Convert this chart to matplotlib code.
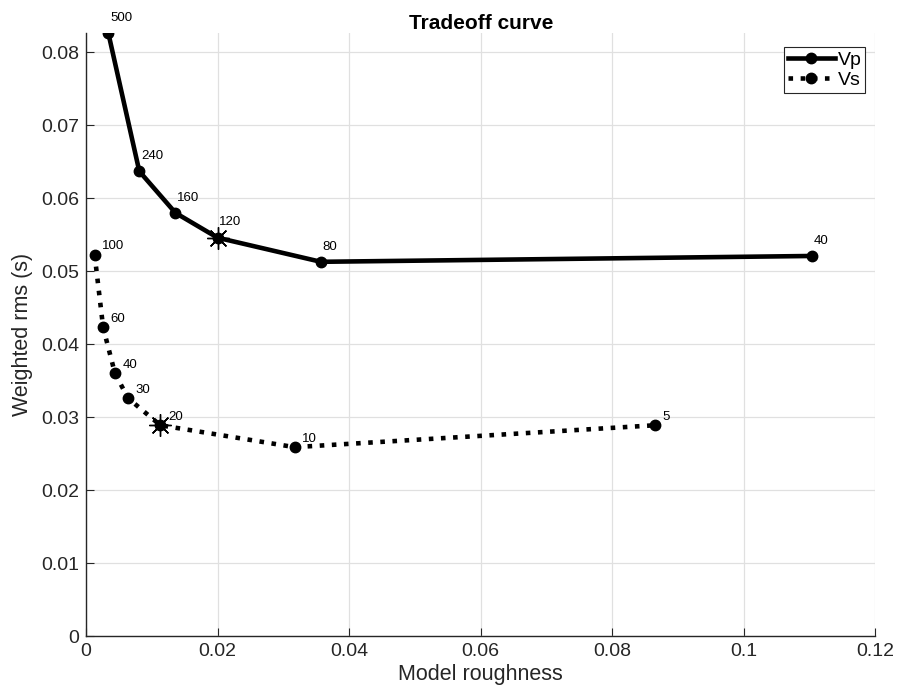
import numpy as np
import matplotlib
matplotlib.use("Agg")
import matplotlib.pyplot as plt

plt.rcParams['font.family'] = ['Liberation Sans', 'DejaVu Sans']

# Vp tradeoff points (damping value labels)
vp_labels = ["500", "240", "160", "120", "80", "40"]
vp_rough = [0.0034, 0.0081, 0.0136, 0.0200, 0.0357, 0.1104]
vp_rms = [0.0826, 0.0637, 0.0580, 0.0546, 0.0513, 0.0521]
vp_pick = 3

# Vs tradeoff points
vs_labels = ["100", "60", "40", "30", "20", "10", "5"]
vs_rough = [0.0013, 0.0026, 0.0044, 0.0064, 0.0113, 0.0317, 0.0865]
vs_rms = [0.0523, 0.0423, 0.0360, 0.0326, 0.0289, 0.0259, 0.0289]
vs_pick = 4

fig = plt.figure(figsize=(9, 6.96), dpi=100)
ax = fig.add_axes([0.0956, 0.086, 0.877, 0.866])

ax.plot(vp_rough, vp_rms, "-o", color="black", lw=3.3, ms=7.5, label="Vp")
ax.plot(vs_rough, vs_rms, ":o", color="black", lw=3.3, ms=7.5, label="Vs")

# chosen models marked with an asterisk
ast = (8, 2, 0)
ax.plot(vp_rough[vp_pick], vp_rms[vp_pick], marker=ast, color="black", ms=16, mew=1.0, ls="none")
ax.plot(vs_rough[vs_pick], vs_rms[vs_pick], marker=ast, color="black", ms=16, mew=1.0, ls="none")

for xs, ys, labs, off in [(vp_rough, vp_rms, vp_labels, (1.2, 11)),
                          (vs_rough, vs_rms, vs_labels, (5.5, 6))]:
    for x, y, t in zip(xs, ys, labs):
        ax.annotate(t, (x, y), xytext=off, textcoords="offset points",
                    ha="left", va="center", fontsize=9.5)

ax.set_xlim(0, 0.12)
ax.set_ylim(0, 0.0826)
ax.set_xticks(np.arange(0, 0.121, 0.02))
ax.set_xticklabels(["0", "0.02", "0.04", "0.06", "0.08", "0.1", "0.12"])
ax.set_yticks(np.arange(0, 0.081, 0.01))
ax.set_yticklabels(["0", "0.01", "0.02", "0.03", "0.04", "0.05", "0.06", "0.07", "0.08"])
ax.tick_params(direction="in", length=6, labelsize=14, colors="#262626", pad=5)
ax.grid(True, color="#e0e0e0", lw=0.9)
ax.set_axisbelow(True)
for s in ["top", "right"]:
    ax.spines[s].set_visible(False)
for s in ["left", "bottom"]:
    ax.spines[s].set_color("#262626")
    ax.spines[s].set_linewidth(1.0)

ax.set_xlabel("Model roughness", fontsize=15.5, color="#262626", labelpad=3)
ax.set_ylabel("Weighted rms (s)", fontsize=15.5, color="#262626", labelpad=6)
ax.set_title("Tradeoff curve", fontsize=15, fontweight="bold", pad=3)

leg = ax.legend(loc="upper right", bbox_to_anchor=(1 - 10 / 789, 1 - 14 / 603),
                fontsize=14, handlelength=2.4, handletextpad=0.15,
                borderpad=0.2, labelspacing=0.12, fancybox=False, framealpha=1,
                borderaxespad=0)
leg.get_frame().set_edgecolor("#262626")
leg.get_frame().set_linewidth(0.8)

fig.savefig("out.png", dpi=100)
